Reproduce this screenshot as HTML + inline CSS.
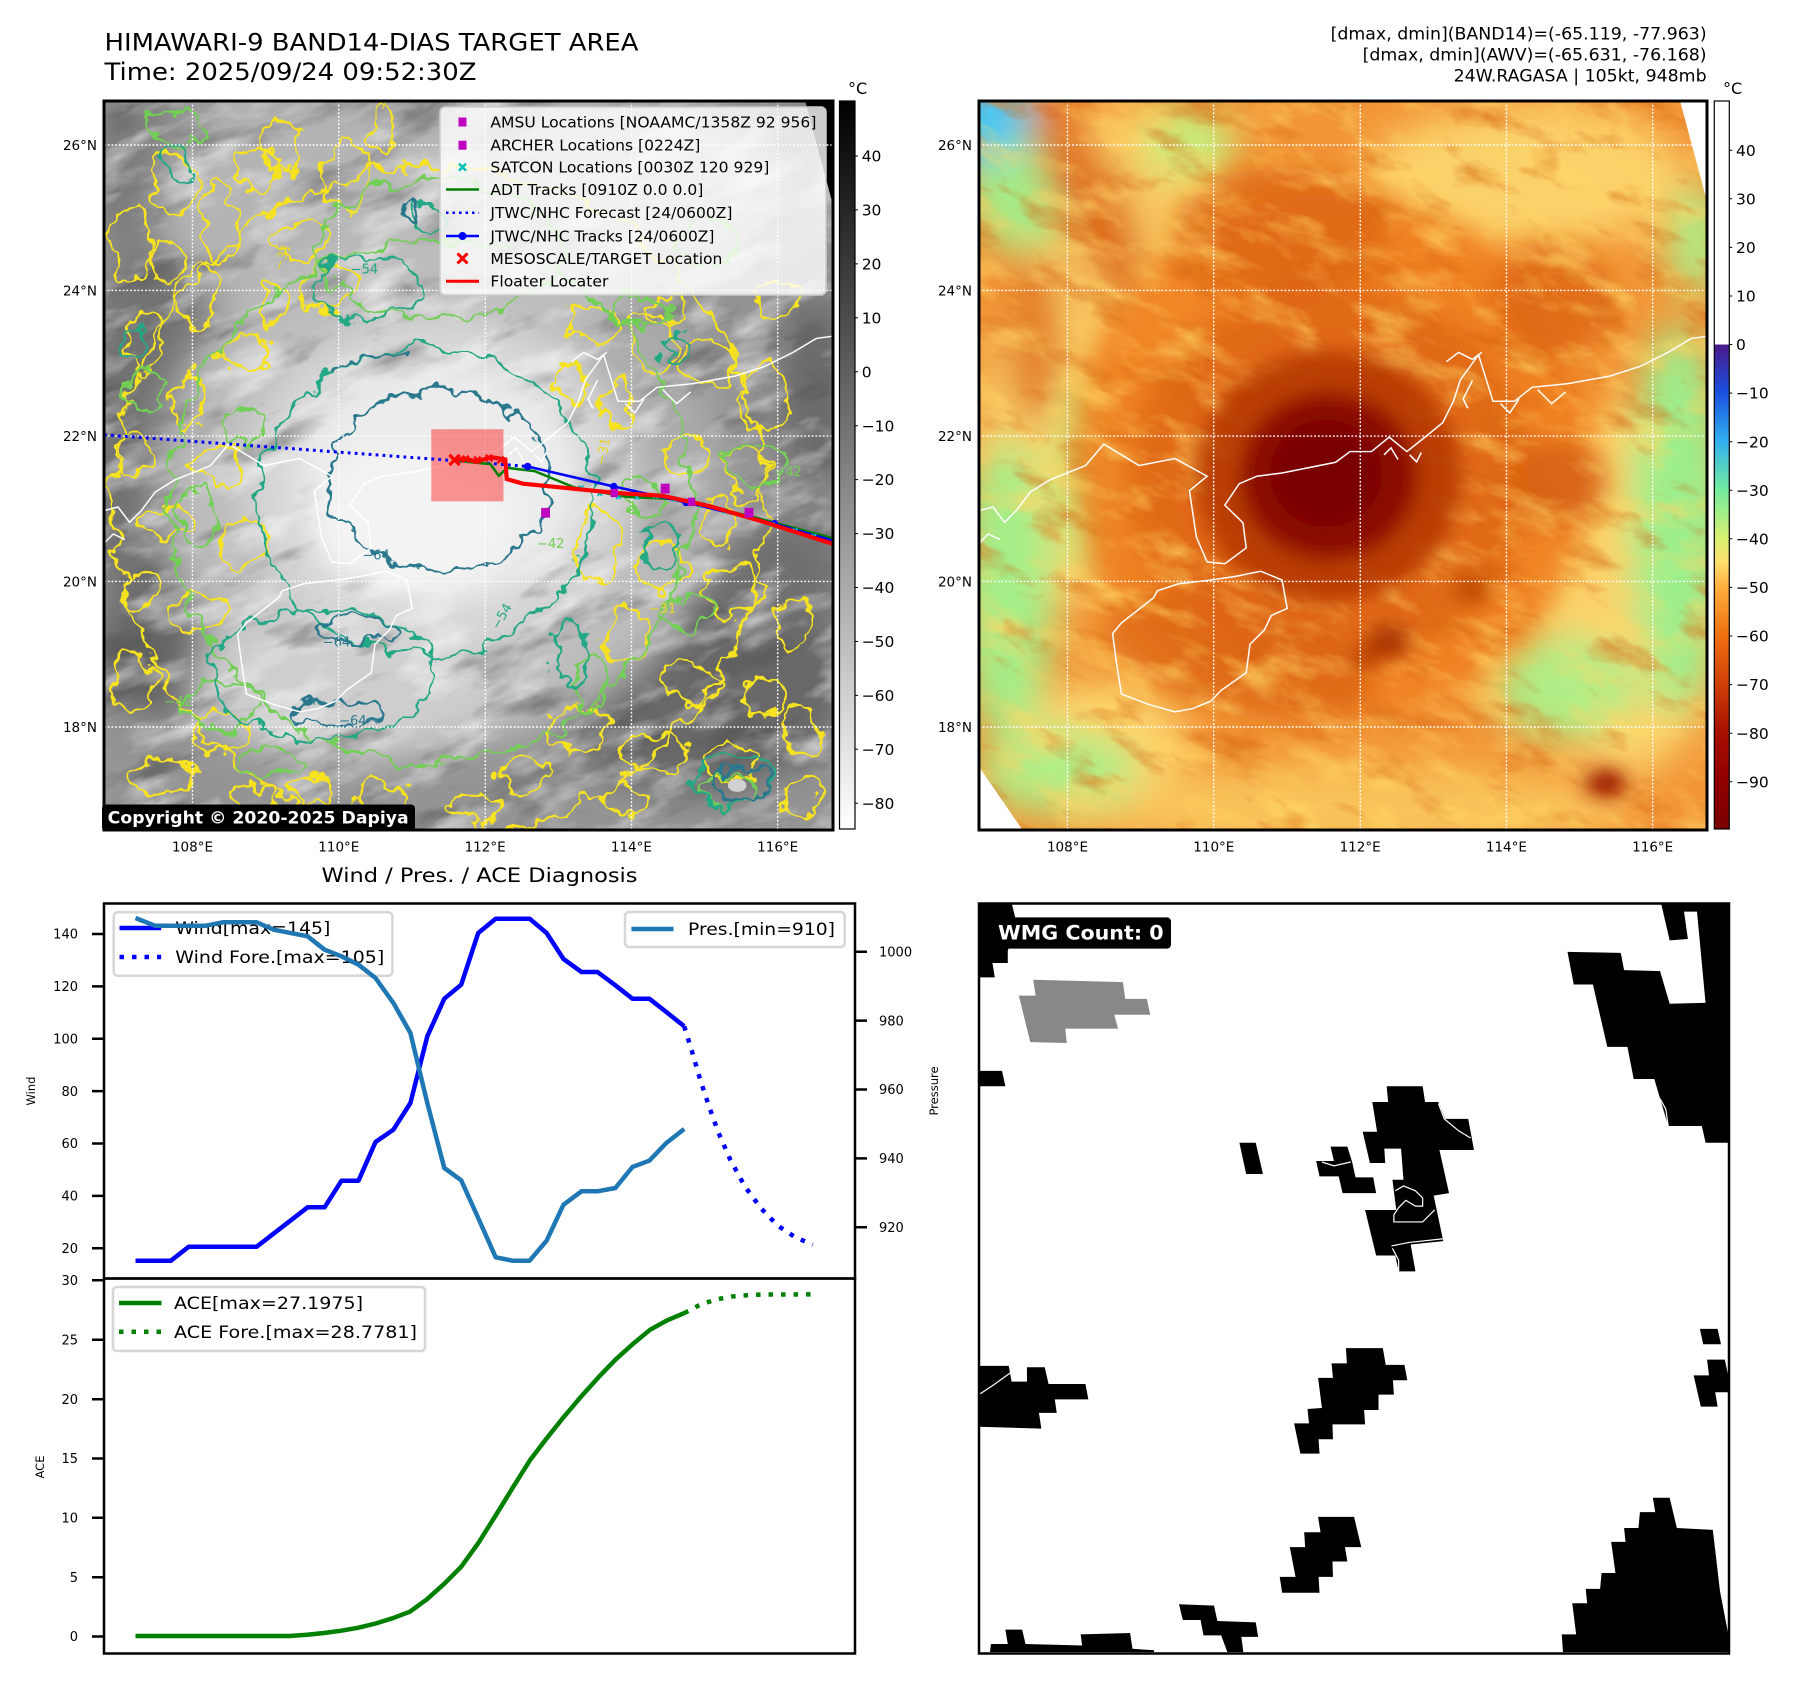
<!DOCTYPE html>
<html><head><meta charset="utf-8"><style>html,body{margin:0;padding:0;background:#fff;overflow:hidden}svg{display:block}</style></head>
<body>
<svg xmlns="http://www.w3.org/2000/svg" width="1797" height="1690" viewBox="0 0 1797 1690" font-family="'DejaVu Sans','Liberation Sans',sans-serif">
<defs>
 <clipPath id="c1"><rect x="0" y="0" width="1566" height="1566"/></clipPath>
 <clipPath id="c4"><rect x="0" y="0" width="1562" height="1562"/></clipPath>
 <linearGradient id="gcb1" x1="0" y1="0" x2="0" y2="1"><stop offset="0" stop-color="#000"/><stop offset="1" stop-color="#fff"/></linearGradient>
 <linearGradient id="gcb2" x1="0" y1="0" x2="0" y2="1">
  <stop offset="0" stop-color="#fff"/><stop offset="0.334" stop-color="#fff"/>
  <stop offset="0.335" stop-color="#4a1a8a"/><stop offset="0.40" stop-color="#1a50e0"/>
  <stop offset="0.467" stop-color="#30b0f0"/><stop offset="0.533" stop-color="#70eca0"/>
  <stop offset="0.60" stop-color="#d8f070"/><stop offset="0.633" stop-color="#ffe070"/>
  <stop offset="0.667" stop-color="#ffb040"/><stop offset="0.733" stop-color="#f07010"/>
  <stop offset="0.80" stop-color="#d04008"/><stop offset="0.867" stop-color="#a81000"/>
  <stop offset="0.933" stop-color="#900000"/><stop offset="1" stop-color="#7a0000"/>
 </linearGradient>
 <filter id="blur" x="-30%" y="-30%" width="160%" height="160%"><feGaussianBlur stdDeviation="40"/></filter>
 <filter id="blur2" x="-30%" y="-30%" width="160%" height="160%"><feGaussianBlur stdDeviation="28"/></filter>
 <filter id="blur3" x="-30%" y="-30%" width="160%" height="160%"><feGaussianBlur stdDeviation="20"/></filter>
 <filter id="gdark" x="0" y="0" width="1" height="1" color-interpolation-filters="sRGB">
  <feTurbulence type="fractalNoise" baseFrequency="0.005 0.014" numOctaves="4" seed="2"/>
  <feColorMatrix type="matrix" values="0 0 0 0 0.3  0 0 0 0 0.3  0 0 0 0 0.3  -1.6 0 0 0 0.7"/>
 </filter>
 <filter id="glight" x="0" y="0" width="1" height="1" color-interpolation-filters="sRGB">
  <feTurbulence type="fractalNoise" baseFrequency="0.006 0.015" numOctaves="4" seed="9"/>
  <feColorMatrix type="matrix" values="0 0 0 0 1  0 0 0 0 1  0 0 0 0 1  0 1.6 0 0 -0.8"/>
 </filter>
 <filter id="ytex" x="0" y="0" width="1" height="1" color-interpolation-filters="sRGB">
  <feTurbulence type="fractalNoise" baseFrequency="0.007 0.016" numOctaves="4" seed="7"/>
  <feColorMatrix type="matrix" values="0 0 0 0 1  0 0 0 0 0.84  0 0 0 0 0.4  1.8 0 0 0 -0.85"/>
 </filter>
 <filter id="otex" x="0" y="0" width="1" height="1" color-interpolation-filters="sRGB">
  <feTurbulence type="fractalNoise" baseFrequency="0.007 0.015" numOctaves="4" seed="4"/>
  <feColorMatrix type="matrix" values="0 0 0 0 0.84  0 0 0 0 0.38  0 0 0 0 0.05  0 -1.8 0 0 0.8"/>
 </filter>
 <filter id="wig" filterUnits="userSpaceOnUse" x="-100" y="-100" width="1768" height="1768" color-interpolation-filters="sRGB">
  <feTurbulence type="fractalNoise" baseFrequency="0.02" numOctaves="3" seed="5" result="n"/>
  <feDisplacementMap in="SourceGraphic" in2="n" scale="64" xChannelSelector="R" yChannelSelector="G"/>
 </filter>
 <path id="coast" d="M0,880 L30,872 L55,905 L80,880 L110,840 L152,814 L229,783 L268,737 L344,783 L421,768 L490,806 L452,837 L467,937 L490,990 L528,994 L574,960 L567,906 L528,868 L559,822 L597,806 L651,799 L766,776 L797,753 L843,753 L881,722 L919,753 L958,722 L996,691 L1019,645 L1034,599 L1073,545 L1104,645 L1150,645 L1188,615 L1265,607 L1355,591 L1420,570 L1480,540 L1530,510 L1568,505 M287,1144 L306,1121 L375,1067 L383,1052 L429,1037 L498,1029 L551,1021 L605,1010 L651,1029 L662,1090 L628,1105 L613,1136 L582,1167 L574,1228 L520,1266 L498,1289 L459,1305 L421,1312 L367,1297 L306,1274 L295,1205 Z M1004,560 L1030,540 L1060,555 L1080,540 M1060,600 L1040,640 L1050,660 M1120,650 L1140,670 L1160,640 M1200,620 L1230,650 L1260,625 M870,760 L885,745 L900,770 M925,760 L940,775 L950,755 M0,950 L20,930 L45,942"/>
</defs>

<!-- Titles -->
<text x="104.5" y="50.5" font-size="24" textLength="534" lengthAdjust="spacingAndGlyphs">HIMAWARI-9 BAND14-DIAS TARGET AREA</text>
<text x="104.5" y="79.8" font-size="24" textLength="372" lengthAdjust="spacingAndGlyphs">Time: 2025/09/24 09:52:30Z</text>
<g font-size="16.5" text-anchor="end">
 <text x="1706.6" y="39.5" textLength="376" lengthAdjust="spacingAndGlyphs">[dmax, dmin](BAND14)=(-65.119, -77.963)</text>
 <text x="1706.6" y="60.5" textLength="344" lengthAdjust="spacingAndGlyphs">[dmax, dmin](AWV)=(-65.631, -76.168)</text>
 <text x="1706.6" y="81.6" textLength="253" lengthAdjust="spacingAndGlyphs">24W.RAGASA | 105kt, 948mb</text>
</g>
<text x="848" y="94" font-size="16">°C</text>
<text x="1723" y="94" font-size="16">°C</text>

<!-- ================= PANEL 1 ================= -->
<g transform="translate(104,101) scale(0.46556)" clip-path="url(#c1)">
 <rect width="1568" height="1568" fill="#949494"/>
 <g filter="url(#blur)">
  <ellipse cx="100" cy="720" rx="170" ry="400" fill="#727272"/>
  <ellipse cx="130" cy="1180" rx="150" ry="140" fill="#636363"/>
  <ellipse cx="60" cy="150" rx="110" ry="170" fill="#7c7c7c"/>
  <ellipse cx="1270" cy="1240" rx="330" ry="250" fill="#676767"/>
  <ellipse cx="1530" cy="620" rx="90" ry="220" fill="#6a6a6a"/>
  <ellipse cx="1460" cy="1010" rx="140" ry="120" fill="#707070"/>
  <ellipse cx="430" cy="220" rx="320" ry="240" fill="#b4b4b4"/>
  <ellipse cx="1000" cy="190" rx="450" ry="200" fill="#bababa"/>
  <ellipse cx="720" cy="820" rx="600" ry="560" fill="#bcbcbc"/>
  <ellipse cx="1150" cy="700" rx="150" ry="280" fill="#ababab"/>
  <ellipse cx="520" cy="1250" rx="330" ry="170" fill="#cecece"/>
  <ellipse cx="720" cy="820" rx="420" ry="360" fill="#d8d8d8"/>
 </g>
 <g transform="rotate(-20 784 784)">
  <rect x="-400" y="-400" width="2368" height="2368" filter="url(#gdark)"/>
  <rect x="-400" y="-400" width="2368" height="2368" filter="url(#glight)"/>
 </g>
 <g filter="url(#blur2)">
  <ellipse cx="720" cy="820" rx="300" ry="250" fill="#ececec"/>
  <ellipse cx="660" cy="900" rx="220" ry="160" fill="#f3f3f3"/>
 </g>
 <polygon points="1506,0 1568,0 1568,232" fill="#000"/>
 <g filter="url(#wig)" fill="none" stroke-width="6">
  <g stroke="#f6e21f">
   <ellipse cx="720" cy="860" rx="700" ry="720"/>
   <ellipse cx="60" cy="300" rx="40" ry="80"/><ellipse cx="150" cy="180" rx="50" ry="60"/><ellipse cx="250" cy="260" rx="35" ry="90"/>
   <ellipse cx="330" cy="150" rx="40" ry="50"/><ellipse cx="420" cy="300" rx="60" ry="40"/><ellipse cx="200" cy="420" rx="45" ry="70"/>
   <ellipse cx="90" cy="520" rx="40" ry="60"/><ellipse cx="300" cy="540" rx="50" ry="40"/><ellipse cx="180" cy="640" rx="30" ry="60"/>
   <ellipse cx="60" cy="760" rx="40" ry="50"/><ellipse cx="250" cy="780" rx="50" ry="40"/><ellipse cx="130" cy="900" rx="60" ry="35"/>
   <ellipse cx="300" cy="950" rx="50" ry="50"/><ellipse cx="80" cy="1050" rx="40" ry="40"/><ellipse cx="200" cy="1100" rx="70" ry="40"/>
   <ellipse cx="60" cy="1250" rx="50" ry="60"/><ellipse cx="250" cy="1350" rx="60" ry="40"/><ellipse cx="120" cy="1450" rx="70" ry="40"/>
   <ellipse cx="380" cy="100" rx="40" ry="60"/><ellipse cx="520" cy="160" rx="50" ry="70"/><ellipse cx="600" cy="60" rx="30" ry="50"/>
   <ellipse cx="480" cy="400" rx="60" ry="50"/><ellipse cx="130" cy="340" rx="30" ry="40"/><ellipse cx="360" cy="440" rx="30" ry="50"/>
   <ellipse cx="1050" cy="480" rx="60" ry="40"/><ellipse cx="1180" cy="520" rx="50" ry="60"/><ellipse cx="1300" cy="560" rx="60" ry="45"/>
   <ellipse cx="1420" cy="640" rx="50" ry="70"/><ellipse cx="1100" cy="650" rx="40" ry="50"/><ellipse cx="1250" cy="760" rx="50" ry="40"/>
   <ellipse cx="1380" cy="800" rx="45" ry="60"/><ellipse cx="1060" cy="950" rx="50" ry="70"/><ellipse cx="1200" cy="1000" rx="60" ry="50"/>
   <ellipse cx="1350" cy="1050" rx="70" ry="45"/><ellipse cx="1480" cy="1120" rx="40" ry="60"/><ellipse cx="1120" cy="1150" rx="50" ry="60"/>
   <ellipse cx="1260" cy="1250" rx="60" ry="50"/><ellipse cx="1420" cy="1280" rx="50" ry="40"/><ellipse cx="1020" cy="1350" rx="60" ry="50"/>
   <ellipse cx="1180" cy="1400" rx="70" ry="40"/><ellipse cx="1350" cy="1420" rx="60" ry="40"/><ellipse cx="1500" cy="1500" rx="40" ry="40"/>
   <ellipse cx="900" cy="1450" rx="50" ry="40"/><ellipse cx="800" cy="1520" rx="60" ry="30"/><ellipse cx="600" cy="1500" rx="50" ry="40"/>
   <ellipse cx="450" cy="1480" rx="40" ry="30"/><ellipse cx="1200" cy="450" rx="40" ry="30"/><ellipse cx="1450" cy="420" rx="50" ry="40"/>
   <ellipse cx="1000" cy="600" rx="40" ry="40"/><ellipse cx="1320" cy="900" rx="40" ry="50"/><ellipse cx="1500" cy="1350" rx="40" ry="50"/>
   <ellipse cx="1120" cy="1500" rx="50" ry="35"/><ellipse cx="320" cy="1500" rx="50" ry="30"/>
  </g>
  <g stroke="#72cf55">
   <ellipse cx="700" cy="860" rx="560" ry="560"/>
   <ellipse cx="720" cy="320" rx="260" ry="150"/>
   <ellipse cx="1150" cy="450" rx="60" ry="40"/><ellipse cx="1400" cy="780" rx="60" ry="50"/><ellipse cx="1250" cy="1100" rx="60" ry="40"/>
   <ellipse cx="90" cy="620" rx="40" ry="50"/><ellipse cx="250" cy="1300" rx="80" ry="50"/><ellipse cx="1350" cy="1480" rx="60" ry="30"/>
   <ellipse cx="350" cy="1420" rx="60" ry="30"/><ellipse cx="1050" cy="1250" rx="40" ry="60"/><ellipse cx="150" cy="60" rx="60" ry="40"/>
   <ellipse cx="1300" cy="300" rx="70" ry="50"/><ellipse cx="200" cy="900" rx="40" ry="60"/><ellipse cx="1160" cy="850" rx="40" ry="40"/>
   <ellipse cx="300" cy="700" rx="40" ry="40"/>
  </g>
  <g stroke="#22a884">
   <ellipse cx="690" cy="860" rx="360" ry="330"/>
   <ellipse cx="560" cy="400" rx="110" ry="70"/>
   <ellipse cx="1000" cy="1180" rx="40" ry="70"/>
   <ellipse cx="470" cy="1230" rx="240" ry="140"/>
   <ellipse cx="1230" cy="530" rx="35" ry="30"/><ellipse cx="1200" cy="960" rx="40" ry="50"/>
   <ellipse cx="1350" cy="1460" rx="80" ry="50"/><ellipse cx="700" cy="250" rx="40" ry="30"/>
   <ellipse cx="60" cy="520" rx="25" ry="30"/><ellipse cx="160" cy="130" rx="25" ry="40"/>
  </g>
  <g stroke="#2a788e" stroke-width="6.5">
   <ellipse cx="720" cy="815" rx="240" ry="195"/>
   <path d="M500,580 Q560,530 650,545"/>
   <ellipse cx="540" cy="1135" rx="80" ry="28"/>
   <ellipse cx="500" cy="1315" rx="100" ry="25"/>
   <ellipse cx="1370" cy="1470" rx="55" ry="35"/>
   <ellipse cx="660" cy="235" rx="20" ry="15"/>
  </g>
 </g>
 <ellipse cx="1360" cy="1470" rx="20" ry="14" fill="#d0d0d0"/>
 <g font-size="28" fill="#2a788e"><text x="555" y="985">−64</text><text x="470" y="1172">−64</text><text x="505" y="1340">−64</text></g>
 <g font-size="28" fill="#22a884"><text x="530" y="370">−54</text><text x="820" y="1130" transform="rotate(-60 840 1110)">−54</text></g>
 <g font-size="28" fill="#e8d820"><text x="350" y="360" transform="rotate(-70 370 340)">−31</text><text x="1040" y="780" transform="rotate(-80 1060 760)">−31</text><text x="1170" y="1100">−31</text><text x="590" y="20" transform="rotate(-70 600 10)">−31</text></g>
 <g font-size="28" fill="#72cf55"><text x="1440" y="805">−42</text><text x="130" y="1300">−42</text><text x="930" y="960">−42</text></g>
 <use href="#coast" fill="none" stroke="#fff" stroke-width="3.2"/>
 <g stroke="#fff" stroke-width="3" stroke-dasharray="4 4">
  <path d="M190,0V1568M504,0V1568M819,0V1568M1133,0V1568M1447,0V1568M0,94.5H1568M0,407H1568M0,719.6H1568M0,1032H1568M0,1344.6H1568"/>
 </g>
 <rect x="703" y="705" width="155" height="155" fill="#ff0000" fill-opacity="0.4"/>
 <polyline points="0,717 760,773 910,785" fill="none" stroke="#0000ff" stroke-width="6.5" stroke-dasharray="6 9"/>
 <polyline points="750,772 830,780 848,805 866,788 925,795 1010,830 1120,850 1230,855 1400,895 1568,940" fill="none" stroke="#008000" stroke-width="5.5"/>
 <polyline points="910,785 1095,828 1250,862 1440,908 1568,945" fill="none" stroke="#0000ff" stroke-width="5.5"/>
 <g fill="#0000ff"><circle cx="910" cy="785" r="8"/><circle cx="1095" cy="828" r="8"/><circle cx="1250" cy="862" r="8"/><circle cx="1440" cy="908" r="8"/></g>
 <g stroke="#00bfbf" stroke-width="4">
  <path d="M1020,826 l10,10 m0,-10 l-10,10 M1060,838 l10,10 m0,-10 l-10,10 M1100,845 l10,10 m0,-10 l-10,10 M1140,846 l10,10 m0,-10 l-10,10 M1180,844 l10,10 m0,-10 l-10,10 M1220,850 l10,10 m0,-10 l-10,10 M1280,862 l10,10 m0,-10 l-10,10 M1330,876 l10,10 m0,-10 l-10,10 M1380,888 l10,10 m0,-10 l-10,10 M1430,905 l10,10 m0,-10 l-10,10 M1480,918 l10,10 m0,-10 l-10,10 M1520,930 l10,10 m0,-10 l-10,10"/>
 </g>
 <polyline points="750,772 775,768 800,775 830,765 862,770 865,812 900,822 1000,832 1100,842 1200,848 1300,870 1420,905 1568,952" fill="none" stroke="#ff0000" stroke-width="9"/>
 <g stroke="#ff0000" stroke-width="5">
  <path d="M770,762 l14,14 m0,-14 l-14,14 M795,764 l14,14 m0,-14 l-14,14 M820,760 l14,14 m0,-14 l-14,14 M845,764 l14,14 m0,-14 l-14,14"/>
  <path d="M742,760 l22,22 m0,-22 l-22,22" stroke-width="7"/>
 </g>
 <g fill="#bf00bf"><rect x="939" y="874" width="19" height="21"/><rect x="1196" y="822" width="19" height="21"/><rect x="1376" y="874" width="19" height="21"/><rect x="1088" y="833" width="16" height="18"/><rect x="1254" y="852" width="16" height="18"/></g>
</g>
<g font-size="13.5" text-anchor="end">
 <text x="97" y="150">26°N</text><text x="97" y="295.5">24°N</text><text x="97" y="441">22°N</text><text x="97" y="586.5">20°N</text><text x="97" y="732">18°N</text>
 <text x="972" y="150">26°N</text><text x="972" y="295.5">24°N</text><text x="972" y="441">22°N</text><text x="972" y="586.5">20°N</text><text x="972" y="732">18°N</text>
</g>
<g font-size="13.5" text-anchor="middle">
 <text x="192.5" y="851.6">108°E</text><text x="338.8" y="851.6">110°E</text><text x="485.1" y="851.6">112°E</text><text x="631.4" y="851.6">114°E</text><text x="777.7" y="851.6">116°E</text>
 <text x="1067.5" y="851.6">108°E</text><text x="1213.8" y="851.6">110°E</text><text x="1360.1" y="851.6">112°E</text><text x="1506.4" y="851.6">114°E</text><text x="1652.7" y="851.6">116°E</text>
</g>
<rect x="440" y="107" width="386" height="188" rx="5" fill="#fff" fill-opacity="0.8" stroke="#cccccc" stroke-width="1.5"/>
<g>
 <rect x="458.5" y="117.5" width="8" height="9" fill="#bf00bf"/>
 <rect x="458.5" y="140.7" width="8" height="9" fill="#bf00bf"/>
 <path d="M459,163.6 l7,7 m0,-7 l-7,7" stroke="#00bfbf" stroke-width="2.5"/>
 <line x1="446" y1="189.5" x2="479" y2="189.5" stroke="#008000" stroke-width="2.5"/>
 <line x1="446" y1="212.7" x2="479" y2="212.7" stroke="#0000ff" stroke-width="2.5" stroke-dasharray="2.5 4"/>
 <line x1="446" y1="236" x2="479" y2="236" stroke="#0000ff" stroke-width="2.5"/><circle cx="462.5" cy="236" r="4" fill="#0000ff"/>
 <path d="M457.5,253.4 l10,10 m0,-10 l-10,10" stroke="#ff0000" stroke-width="3"/>
 <line x1="446" y1="281.2" x2="479" y2="281.2" stroke="#ff0000" stroke-width="3"/>
</g>
<g font-size="15">
 <text x="490.4" y="127.5" textLength="326" lengthAdjust="spacingAndGlyphs">AMSU Locations [NOAAMC/1358Z 92 956]</text>
 <text x="490.4" y="150.7" textLength="210" lengthAdjust="spacingAndGlyphs">ARCHER Locations [0224Z]</text>
 <text x="490.4" y="172.6" textLength="279" lengthAdjust="spacingAndGlyphs">SATCON Locations [0030Z 120 929]</text>
 <text x="490.4" y="195" textLength="213" lengthAdjust="spacingAndGlyphs">ADT Tracks [0910Z 0.0 0.0]</text>
 <text x="490.4" y="218.2" textLength="242" lengthAdjust="spacingAndGlyphs">JTWC/NHC Forecast [24/0600Z]</text>
 <text x="490.4" y="241.5" textLength="224" lengthAdjust="spacingAndGlyphs">JTWC/NHC Tracks [24/0600Z]</text>
 <text x="490.4" y="263.9" textLength="232" lengthAdjust="spacingAndGlyphs">MESOSCALE/TARGET Location</text>
 <text x="490.4" y="286.7" textLength="118" lengthAdjust="spacingAndGlyphs">Floater Locater</text>
</g>
<rect x="102" y="804.5" width="313" height="27" rx="4" fill="#000"/>
<text x="107.7" y="823.5" font-size="16.5" font-weight="bold" fill="#fff" textLength="301" lengthAdjust="spacingAndGlyphs">Copyright © 2020-2025 Dapiya</text>
<rect x="104" y="101" width="729" height="729" fill="none" stroke="#000" stroke-width="3"/>

<rect x="839.5" y="101" width="15.5" height="728" fill="url(#gcb1)" stroke="#000" stroke-width="1.2"/>
<g stroke="#000" stroke-width="1"><path d="M855,156h3M855,209.9h3M855,263.9h3M855,317.8h3M855,371.8h3M855,425.7h3M855,479.6h3M855,533.6h3M855,587.5h3M855,641.5h3M855,695.4h3M855,749.3h3M855,803.3h3"/></g>
<g font-size="15.5">
 <text x="861.7" y="161.6">40</text><text x="861.7" y="215.5">30</text><text x="861.7" y="269.5">20</text><text x="861.7" y="323.4">10</text><text x="861.7" y="377.4">0</text>
 <text x="861.7" y="431.3">−10</text><text x="861.7" y="485.2">−20</text><text x="861.7" y="539.2">−30</text><text x="861.7" y="593.1">−40</text><text x="861.7" y="647.1">−50</text>
 <text x="861.7" y="701">−60</text><text x="861.7" y="754.9">−70</text><text x="861.7" y="808.9">−80</text>
</g>

<!-- ================= PANEL 2 ================= -->
<g transform="translate(979,101) scale(0.46556)" clip-path="url(#c1)">
 <rect width="1568" height="1568" fill="#f29638"/>
 <g filter="url(#blur)">
  <ellipse cx="330" cy="300" rx="220" ry="280" fill="#fbd26a" fill-opacity="0.85"/>
  <ellipse cx="1180" cy="160" rx="340" ry="150" fill="#fbd26a"/>
  <ellipse cx="140" cy="760" rx="150" ry="340" fill="#fbd26a"/>
  <ellipse cx="1400" cy="1050" rx="200" ry="400" fill="#fbd26a"/>
  <ellipse cx="800" cy="1520" rx="600" ry="90" fill="#f9c35a"/>
  <ellipse cx="250" cy="1380" rx="200" ry="130" fill="#fbd26a"/>
  <ellipse cx="1500" cy="900" rx="100" ry="420" fill="#9cef8c"/>
  <ellipse cx="60" cy="1050" rx="100" ry="320" fill="#a4ee88"/>
  <ellipse cx="170" cy="1440" rx="170" ry="90" fill="#b0ed86"/>
  <ellipse cx="450" cy="90" rx="100" ry="80" fill="#c8ee7c"/>
  <ellipse cx="90" cy="170" rx="110" ry="150" fill="#a4ee88"/>
  <ellipse cx="1540" cy="300" rx="60" ry="120" fill="#b0ed86"/>
  <ellipse cx="1260" cy="1260" rx="150" ry="110" fill="#b0ed86"/>
  <ellipse cx="230" cy="800" rx="60" ry="200" fill="#c4ee80"/>
  <ellipse cx="10" cy="20" rx="100" ry="110" fill="#4cc6f2"/>
  <ellipse cx="240" cy="220" rx="70" ry="260" fill="#e0701a" transform="rotate(-25 240 220)"/>
  <ellipse cx="120" cy="520" rx="60" ry="180" fill="#e27a20"/>
 </g>
 <g filter="url(#blur2)">
  <ellipse cx="760" cy="760" rx="560" ry="560" fill="#ef7f1f" fill-opacity="0.9"/>
  <ellipse cx="650" cy="280" rx="230" ry="140" fill="#dc6212" fill-opacity="0.75"/>
  <ellipse cx="1230" cy="430" rx="130" ry="130" fill="#dc6212" fill-opacity="0.75"/>
  <ellipse cx="1240" cy="820" rx="110" ry="90" fill="#d45c10" fill-opacity="0.8"/>
  <ellipse cx="560" cy="1200" rx="300" ry="110" fill="#dc6212" fill-opacity="0.7" transform="rotate(15 560 1200)"/>
  <ellipse cx="751" cy="806" rx="430" ry="410" fill="#dc6212" fill-opacity="0.75"/>
 </g>
 <g transform="rotate(20 784 784)">
  <rect x="-400" y="-400" width="2368" height="2368" filter="url(#ytex)"/>
  <rect x="-400" y="-400" width="2368" height="2368" filter="url(#otex)"/>
 </g>
 <g filter="url(#blur3)">
  <ellipse cx="751" cy="806" rx="285" ry="270" fill="#b63806" fill-opacity="0.9"/>
  <ellipse cx="751" cy="806" rx="190" ry="180" fill="#8c0c00"/>
  <ellipse cx="745" cy="800" rx="120" ry="115" fill="#7a0000"/>
  <ellipse cx="1345" cy="1465" rx="45" ry="30" fill="#9c1a00"/>
  <ellipse cx="880" cy="1160" rx="45" ry="35" fill="#a83000"/>
  <ellipse cx="830" cy="1195" rx="30" ry="25" fill="#b84000"/>
  <ellipse cx="1060" cy="1050" rx="40" ry="30" fill="#c04806"/>
 </g>
 <polygon points="1506,0 1568,0 1568,232" fill="#fff"/>
 <polygon points="0,1430 0,1568 95,1568" fill="#fff"/>
 <use href="#coast" fill="none" stroke="#fff" stroke-width="3.2"/>
 <g stroke="#fff" stroke-width="3" stroke-dasharray="4 4">
  <path d="M190,0V1568M504,0V1568M819,0V1568M1133,0V1568M1447,0V1568M0,94.5H1568M0,407H1568M0,719.6H1568M0,1032H1568M0,1344.6H1568"/>
 </g>
</g>
<rect x="979" y="101" width="728" height="729" fill="none" stroke="#000" stroke-width="3"/>
<rect x="1714.3" y="101" width="15" height="728" fill="url(#gcb2)" stroke="#000" stroke-width="1.2"/>
<g stroke="#000" stroke-width="1"><path d="M1729.3,150.2h3M1729.3,198.8h3M1729.3,247.4h3M1729.3,296h3M1729.3,344.5h3M1729.3,393.1h3M1729.3,441.7h3M1729.3,490.3h3M1729.3,538.8h3M1729.3,587.4h3M1729.3,636h3M1729.3,684.6h3M1729.3,733.2h3M1729.3,781.8h3"/></g>
<g font-size="15.5">
 <text x="1736" y="155.8">40</text><text x="1736" y="204.4">30</text><text x="1736" y="253">20</text><text x="1736" y="301.6">10</text><text x="1736" y="350.1">0</text>
 <text x="1736" y="398.7">−10</text><text x="1736" y="447.3">−20</text><text x="1736" y="495.9">−30</text><text x="1736" y="544.4">−40</text><text x="1736" y="593">−50</text>
 <text x="1736" y="641.6">−60</text><text x="1736" y="690.2">−70</text><text x="1736" y="738.8">−80</text><text x="1736" y="787.4">−90</text>
</g>

<!-- ================= PANEL 3 ================= -->
<text x="479.5" y="882" font-size="19.5" text-anchor="middle" textLength="316" lengthAdjust="spacingAndGlyphs">Wind / Pres. / ACE Diagnosis</text>
<g stroke="#000" stroke-width="2.5">
 <path d="M92,934H104M92,986.4H104M92,1038.8H104M92,1091.1H104M92,1143.5H104M92,1195.9H104M92,1248.3H104"/>
 <path d="M855,951.7H867M855,1020.6H867M855,1089.5H867M855,1158.4H867M855,1227.3H867"/>
 <path d="M92,1280.3H104M92,1339.8H104M92,1399.2H104M92,1458.5H104M92,1517.8H104M92,1577.2H104M92,1636.5H104"/>
</g>
<g font-size="13" text-anchor="end">
 <text x="78" y="938.7">140</text><text x="78" y="991.1">120</text><text x="78" y="1043.5">100</text><text x="78" y="1095.8">80</text><text x="78" y="1148.2">60</text><text x="78" y="1200.6">40</text><text x="78" y="1253">20</text>
 <text x="78" y="1285">30</text><text x="78" y="1344.5">25</text><text x="78" y="1403.9">20</text><text x="78" y="1463.2">15</text><text x="78" y="1522.5">10</text><text x="78" y="1581.9">5</text><text x="78" y="1641.2">0</text>
</g>
<g font-size="13">
 <text x="879" y="956.4">1000</text><text x="879" y="1025.3">980</text><text x="879" y="1094.2">960</text><text x="879" y="1163.1">940</text><text x="879" y="1232">920</text>
</g>
<g font-size="11.5" text-anchor="middle">
 <text transform="translate(35,1091) rotate(-90)">Wind</text>
 <text transform="translate(938,1091) rotate(-90)">Pressure</text>
 <text transform="translate(44,1467) rotate(-90)">ACE</text>
</g>
<polyline fill="none" stroke="#0000ff" stroke-width="4.5" stroke-linejoin="round" points="135.5,1260.7 170.9,1260.7 188.8,1246.7 256.7,1246.7 307.6,1207.3 324.6,1207.3 341.5,1180.7 358.5,1180.7 375.5,1142 393.4,1129.7 410.4,1103 427.3,1036.3 444.3,998.7 461.2,984.7 478.2,933 495.7,918.7 529.6,918.7 546.6,933 563.5,959 581.5,972 597.5,972 615.4,985.3 632.4,998.7 649.3,998.7 666.3,1012 684.2,1026.3"/>
<polyline fill="none" stroke="#0000ff" stroke-width="4.5" stroke-dasharray="4.5 8" points="684.2,1026.3 691.5,1049.7 700.2,1079.7 709,1106.3 718.6,1133 730.3,1159.7 744.8,1186.3 760.8,1208 777.8,1225.7 794.8,1237 812.7,1244.7"/>
<rect x="113.7" y="912.3" width="278.7" height="63.4" rx="4" fill="#fff" fill-opacity="0.8" stroke="#d6d6d6" stroke-width="2.5"/>
<line x1="119.5" y1="928" x2="161.2" y2="928" stroke="#0000ff" stroke-width="4.5"/>
<line x1="119.5" y1="957" x2="161.2" y2="957" stroke="#0000ff" stroke-width="4.5" stroke-dasharray="4.5 8"/>
<text x="175.3" y="934.2" font-size="17" textLength="155" lengthAdjust="spacingAndGlyphs">Wind[max=145]</text>
<text x="175.3" y="963.2" font-size="17" textLength="209" lengthAdjust="spacingAndGlyphs">Wind Fore.[max=105]</text>
<polyline fill="none" stroke="#1f77b4" stroke-width="4.5" stroke-linejoin="round" points="135.5,918 154.9,925.7 205.8,925.7 222.8,922.3 256.7,922.3 273.7,929.7 307.6,936.3 324.6,949.7 341.5,956.3 358.5,964.7 375.5,978 393.4,1003 410.4,1033 427.3,1103 444.3,1168 461.2,1180.3 478.2,1218 495.7,1257.3 512.6,1260.7 529.6,1260.7 546.6,1240.7 563.5,1204.7 581.5,1191.3 597.5,1191.3 615.4,1188 632.4,1167 649.3,1160.7 666.3,1143 684.2,1129"/>
<rect x="625" y="912" width="219.7" height="35" rx="4" fill="#fff" fill-opacity="0.8" stroke="#d6d6d6" stroke-width="2.5"/>
<line x1="631.4" y1="929" x2="673.5" y2="929" stroke="#1f77b4" stroke-width="4.5"/>
<text x="688" y="935.2" font-size="17" textLength="147" lengthAdjust="spacingAndGlyphs">Pres.[min=910]</text>
<polyline fill="none" stroke="#008000" stroke-width="4.5" stroke-linejoin="round" points="135.5,1636 289.85,1636 307,1634.8 324.15,1633 341.3,1630.7 358.45,1627.7 375.6,1623.5 392.75,1618.2 409.9,1611.7 427.05,1599.2 444.2,1583.8 461.35,1566.6 478.5,1542.8 495.65,1515.5 512.8,1487.6 529.95,1460.3 547.1,1437.8 564.25,1416.4 581.4,1396.2 598.55,1377.2 615.7,1359.4 632.85,1344 650,1329.8 667.15,1320.3 684.3,1313.1"/>
<polyline fill="none" stroke="#008000" stroke-width="4.5" stroke-dasharray="4.5 8" points="684.3,1313.1 700,1304.8 716,1299.5 732,1296.5 748,1295.1 764,1294.5 812.7,1294.4"/>
<rect x="113" y="1287" width="312" height="64" rx="4" fill="#fff" fill-opacity="0.8" stroke="#d6d6d6" stroke-width="2.5"/>
<line x1="119" y1="1303" x2="161.5" y2="1303" stroke="#008000" stroke-width="4.5"/>
<line x1="119" y1="1331.7" x2="161.5" y2="1331.7" stroke="#008000" stroke-width="4.5" stroke-dasharray="4.5 8"/>
<text x="174" y="1309.2" font-size="17" textLength="189" lengthAdjust="spacingAndGlyphs">ACE[max=27.1975]</text>
<text x="174" y="1337.9" font-size="17" textLength="243" lengthAdjust="spacingAndGlyphs">ACE Fore.[max=28.7781]</text>
<rect x="104" y="903.5" width="751" height="375" fill="none" stroke="#000" stroke-width="2.5"/>
<rect x="104" y="1278.5" width="751" height="375" fill="none" stroke="#000" stroke-width="2.5"/>

<!-- ================= PANEL 4 ================= -->
<g transform="translate(979,903) scale(0.47962)" clip-path="url(#c4)">
 <rect width="1568" height="1568" fill="#fff"/>
 <g fill="#000">
  <polygon points="0,0 68,0 78,40 60,100 60,125 28,125 33,155 0,155"/>
  <polygon points="0,350 48,350 55,382 0,382"/>
  <polygon points="1422,0 1568,0 1568,210 1515,210 1497,18 1470,18 1478,75 1440,78"/>
  <polygon points="1227,102 1338,104 1345,140 1420,142 1440,210 1520,208 1568,210 1568,500 1515,500 1507,465 1437,465 1408,367 1365,367 1352,300 1310,300 1280,170 1240,170"/>
  <polygon points="850,382 925,382 930,415 958,415 972,450 1020,450 1032,515 960,515 980,605 948,610 968,705 900,712 910,768 875,768 868,735 828,735 805,640 870,640 862,577 885,577 880,512 845,512 847,542 815,542 800,477 830,477 820,415 853,415"/>
  <polygon points="543,500 577,500 592,565 557,565"/>
  <polygon points="733,508 768,508 778,540 785,572 822,572 828,605 758,605 750,570 710,570 703,538 740,538"/>
  <polygon points="0,965 62,965 68,998 100,998 100,968 137,968 145,1003 222,1003 228,1035 158,1035 162,1063 125,1063 130,1096 0,1092"/>
  <polygon points="765,928 842,928 848,963 887,963 893,995 863,995 865,1025 833,1025 833,1057 803,1057 805,1087 737,1087 738,1118 708,1118 710,1148 670,1148 657,1085 688,1085 685,1055 715,1053 707,990 738,990 735,960 767,960"/>
  <polygon points="1503,888 1540,888 1547,920 1510,920"/>
  <polygon points="1518,952 1555,952 1562,985 1568,985 1568,1020 1535,1020 1540,1050 1505,1050 1490,985 1522,985"/>
  <polygon points="707,1280 782,1280 797,1343 763,1343 768,1373 737,1373 738,1405 708,1405 710,1438 632,1438 627,1405 660,1405 648,1343 680,1343 678,1312 712,1312"/>
  <polygon points="1405,1240 1440,1240 1455,1303 1530,1307 1545,1435 1568,1555 1568,1568 1218,1568 1215,1525 1245,1525 1237,1460 1268,1460 1265,1430 1295,1430 1298,1397 1327,1397 1318,1332 1348,1332 1345,1303 1375,1303 1378,1270 1410,1270"/>
  <polygon points="417,1462 490,1465 497,1497 577,1500 582,1530 547,1530 552,1568 520,1568 505,1527 468,1527 462,1495 425,1495"/>
  <polygon points="55,1515 90,1515 97,1545 215,1548 212,1525 315,1522 320,1555 365,1558 365,1568 22,1568 25,1545 60,1545"/>
 </g>
 <polygon points="113,160 300,165 305,200 350,200 357,233 282,233 290,262 180,262 183,292 107,290 83,193 118,193" fill="#888888"/>
 <g fill="none" stroke="#fff" stroke-width="2.5">
  <polyline points="958,418 970,450 1000,475 1025,490"/>
  <polyline points="868,600 885,590 910,600 925,615 925,632 910,632 890,620 875,635 865,650 865,665 925,665 950,640"/>
  <polyline points="860,715 895,708 968,700"/>
  <polyline points="862,720 875,745 875,768"/>
  <polyline points="715,540 740,548 775,540"/>
  <polyline points="0,1025 30,1005 65,980"/>
  <polyline points="1420,408 1432,430 1437,465"/>
 </g>
</g>
<rect x="979" y="917.4" width="192" height="31.2" rx="4" fill="#000"/>
<text x="998" y="939.5" font-size="19.5" font-weight="bold" fill="#fff" textLength="165.6" lengthAdjust="spacingAndGlyphs">WMG Count: 0</text>
<rect x="979" y="903.5" width="750" height="750" fill="none" stroke="#000" stroke-width="2.5"/>
</svg>
</body></html>
